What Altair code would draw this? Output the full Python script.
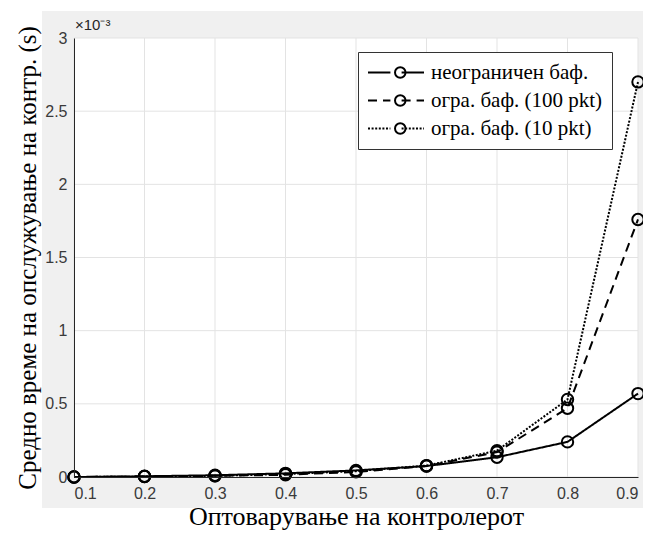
import altair as alt
import pandas as pd

load = [0.1, 0.2, 0.3, 0.4, 0.5, 0.6, 0.7, 0.8, 0.9]
series_names = ["неограничен баф.", "огра. баф. (100 pkt)", "огра. баф. (10 pkt)"]
# values in units of 1e-3 s
unbounded = [0.0, 0.005, 0.012, 0.025, 0.045, 0.075, 0.135, 0.24, 0.57]
buf100 = [0.0, 0.003, 0.008, 0.015, 0.035, 0.075, 0.17, 0.47, 1.76]
buf10 = [0.0, 0.003, 0.008, 0.02, 0.04, 0.078, 0.18, 0.53, 2.70]
x_ticks = [0.1, 0.2, 0.3, 0.4, 0.5, 0.6, 0.7, 0.8, 0.9]
y_ticks = [0, 0.5, 1, 1.5, 2, 2.5, 3]
exponent_label = "×10⁻³"

marker_names = [n + " " for n in series_names]  # separate domain -> separate marker legend

rows = []
for name, mname, vals in zip(series_names, marker_names, [unbounded, buf100, buf10]):
    for xv, yv in zip(load, vals):
        rows.append({"x": xv, "y": yv, "series": name, "marker": mname})
df = pd.DataFrame(rows)

W, H = 564, 439
GRAY = "#f0f0f0"
GRID = "#e3e3e3"

# legend geometry
LX, LY, LPAD = 284, 14, 9
SYMW = 56
CLIP, ROWPAD, LFS = 23, 5, 21
CIRC = 110

sym = "M-1,0L-0.2,0M0.2,0L1,0"

xscale = alt.Scale(domain=[0.1, 0.9], nice=False, zero=False)
yscale = alt.Scale(domain=[0, 3], nice=False)

xenc = alt.X("x:Q", scale=xscale,
             axis=alt.Axis(values=x_ticks, format=".1f", title="Оптоварување на контролерот",
                           titleFont="Liberation Serif", titleFontSize=26, titleFontWeight="normal",
                           titleColor="black", titlePadding=2, labelPadding=8, zindex=2,
                           grid=False, domainColor="#262626", tickSize=0))
yenc = alt.Y("y:Q", scale=yscale,
             axis=alt.Axis(values=y_ticks, format="~g",
                           title="Средно време на опслужување на контр. (s)",
                           titleFont="Liberation Serif", titleFontSize=25, titleFontWeight="normal",
                           titleColor="black", titlePadding=4, labelPadding=7, zindex=2,
                           grid=False, domainColor="#262626", tickSize=0))

one = alt.Data(values=[{"t": exponent_label}])
gray_bg = alt.Chart(one).mark_rect(color=GRAY).encode(
    x=alt.value(-32), x2=alt.value(W + 5), y=alt.value(-27), y2=alt.value(H + 31))
white_bg = alt.Chart(one).mark_rect(color="white").encode(
    x=alt.value(0), x2=alt.value(W), y=alt.value(0), y2=alt.value(H))
expo = alt.Chart(one).mark_text(align="left", baseline="alphabetic", fontSize=15,
                               font="Liberation Sans", color="#262626").encode(
    x=alt.value(1), y=alt.value(-8), text="t:N")

vgrid = alt.Chart(pd.DataFrame({"x": x_ticks})).mark_rule(color=GRID, strokeWidth=1).encode(
    x=alt.X("x:Q", scale=xscale))
hgrid = alt.Chart(pd.DataFrame({"y": y_ticks})).mark_rule(color=GRID, strokeWidth=1).encode(
    y=alt.Y("y:Q", scale=yscale))

lines = alt.Chart(df).mark_line(color="black", strokeWidth=2).encode(
    x=xenc, y=yenc,
    strokeDash=alt.StrokeDash("series:N",
        scale=alt.Scale(domain=series_names, range=[[1, 0], [9, 6], [2, 1.6]]),
        sort=series_names,
        legend=alt.Legend(title=None, symbolType=sym, symbolSize=SYMW * SYMW,
                          symbolStrokeWidth=2, symbolStrokeColor="black",
                          symbolFillColor="transparent",
                          labelFont="Liberation Serif", labelFontSize=LFS, labelColor="black",
                          labelLimit=400,
                          orient="none", legendX=LX, legendY=LY,
                          padding=LPAD, rowPadding=ROWPAD, labelOffset=6, clipHeight=CLIP,
                          strokeColor="#333333", fillColor="white", zindex=3))
)
pts = alt.Chart(df).mark_point(filled=False, color="black",
                              size=130, strokeWidth=2, opacity=1).encode(
    x="x:Q", y="y:Q",
    shape=alt.Shape("marker:N",
        scale=alt.Scale(domain=marker_names, range=["circle", "circle", "circle"]),
        sort=marker_names,
        legend=alt.Legend(title=None, symbolSize=CIRC, symbolStrokeWidth=2,
                          symbolStrokeColor="black", symbolFillColor="transparent",
                          labelFont="Liberation Serif", labelFontSize=LFS,
                          labelExpr="''", labelLimit=400,
                          orient="none", legendX=LX + LPAD + SYMW / 2 - (CIRC ** 0.5) / 2,
                          legendY=LY + LPAD, padding=0, rowPadding=ROWPAD,
                          clipHeight=CLIP, zindex=4)))

chart = alt.layer(gray_bg, white_bg, vgrid, hgrid, lines, pts, expo).properties(
    width=W, height=H,
    autosize=alt.AutoSizeParams(type="none"),
    padding={"left": 66, "top": 30, "right": 5, "bottom": 53},
    background="white",
).configure_view(stroke=None).configure_axis(
    labelFont="Liberation Sans", labelFontSize=16, labelColor="#3a3a3a",
)

chart.save("out.html", embed_options={"renderer": "svg", "actions": False})
